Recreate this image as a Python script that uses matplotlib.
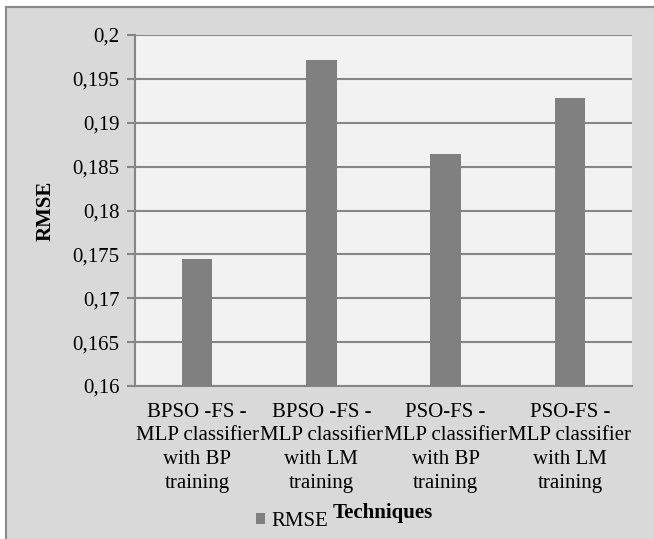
import matplotlib
matplotlib.use("Agg")
import matplotlib.pyplot as plt
from matplotlib.patches import Rectangle
from matplotlib.lines import Line2D
from matplotlib.ticker import FuncFormatter

categories = ["BPSO -FS -\nMLP classifier\nwith BP\ntraining",
              "BPSO -FS -\nMLP classifier\nwith LM\ntraining",
              "PSO-FS -\nMLP classifier\nwith BP\ntraining",
              "PSO-FS -\nMLP classifier\nwith LM\ntraining"]
rmse = [0.1745, 0.1972, 0.1864, 0.1928]
yticks = [0.16, 0.165, 0.17, 0.175, 0.18, 0.185, 0.19, 0.195, 0.2]

FAM = ['Liberation Serif', 'DejaVu Serif']
plt.rcParams['font.family'] = FAM
FS = 15
W, H = 654, 539
fig = plt.figure(figsize=(W/100, H/100), dpi=100, facecolor='white')

# chart area background
fig.patches.append(Rectangle((6/W, 0), 1, 1 - 7/H, transform=fig.transFigure,
                             facecolor='#d9d9d9', edgecolor='none', zorder=-5))
fig.lines.append(Line2D([6/W, 6/W], [0, 1 - 7/H], transform=fig.transFigure,
                        color='#8a8a8a', lw=1.5, zorder=-4))
fig.lines.append(Line2D([6/W, 1], [1 - 7/H, 1 - 7/H], transform=fig.transFigure,
                        color='#8a8a8a', lw=1.5, zorder=-4))

ax = fig.add_axes([135/W, 1 - 386/H, (632 - 135)/W, (386 - 35)/H])
ax.set_facecolor('#f2f2f2')
x = range(len(categories))
ax.bar(x, rmse, width=0.245, color='#808080', zorder=3, label='RMSE')
ax.set_xlim(-0.5, len(categories) - 0.5)
ax.set_ylim(0.16, 0.2)
ax.set_yticks(yticks)
ax.yaxis.set_major_formatter(FuncFormatter(lambda v, p: ('%g' % round(v, 4)).replace('.', ',')))
ax.grid(axis='y', color='#868686', lw=1.5, zorder=1)
ax.set_xticks(list(x))
ax.set_xticklabels(categories, fontsize=FS, linespacing=1.34, family=FAM)
ax.tick_params(axis='x', length=0, pad=12)
ax.tick_params(axis='y', length=6, width=1.5, color='#868686', labelsize=FS, pad=5)
for lab in ax.get_yticklabels():
    lab.set_family(FAM)
for s in ['top', 'right']:
    ax.spines[s].set_visible(False)
for s in ['left', 'bottom']:
    ax.spines[s].set_color('#868686')
    ax.spines[s].set_linewidth(1.5)
ax.set_ylabel('RMSE', fontsize=FS, fontweight='bold', labelpad=12)

fig.text(333/W, 1 - 518/H, 'Techniques', fontsize=FS, fontweight='bold',
         ha='left', va='baseline')
leg = fig.legend(loc='lower left', bbox_to_anchor=(256/W, 1 - 531/H), frameon=False,
                 fontsize=FS, handlelength=0.45, handleheight=0.45, handletextpad=0.3,
                 borderpad=0, borderaxespad=0)
fig.savefig('out.png', dpi=100, facecolor='white')
